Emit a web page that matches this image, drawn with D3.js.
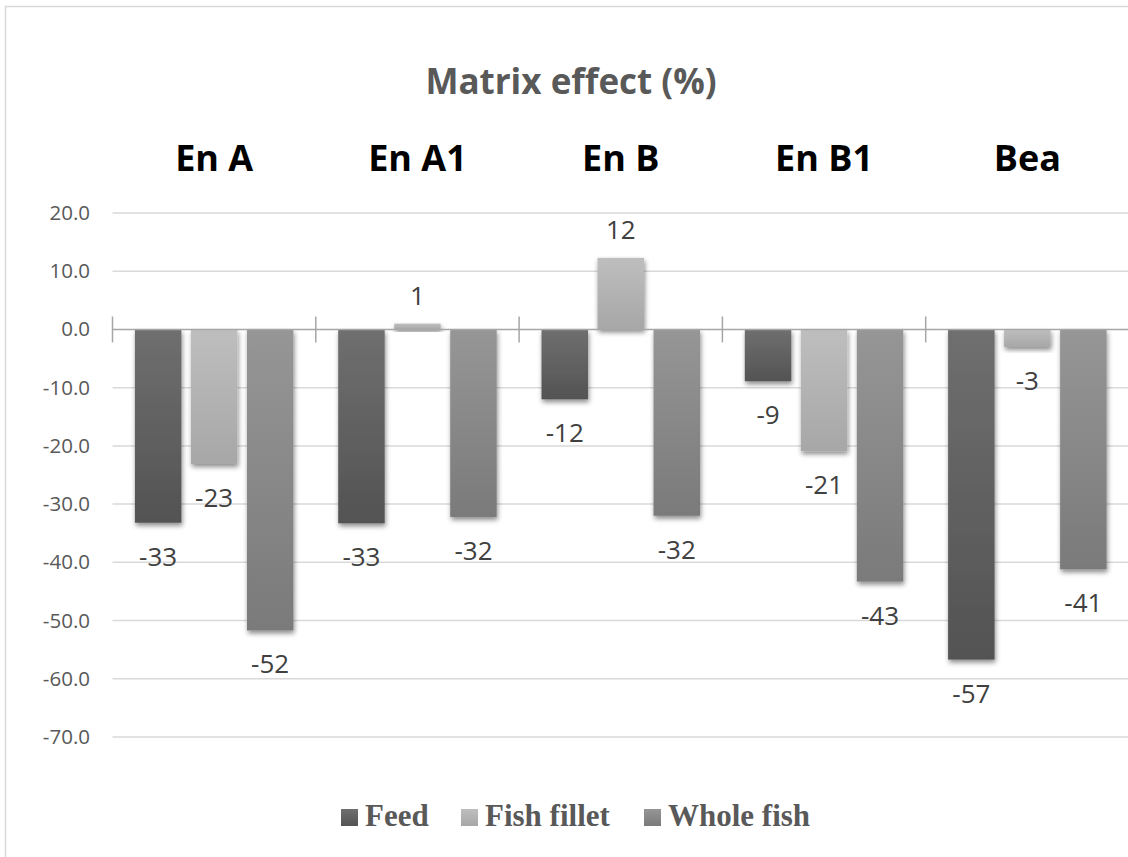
<!DOCTYPE html>
<html>
<head>
<meta charset="utf-8">
<script src="https://cdn.jsdelivr.net/npm/d3@7"></script>
<style>
  html, body { margin: 0; padding: 0; background: #fff; }
  svg { display: block; }
</style>
</head>
<body>
<svg id="chart" width="1128" height="857"></svg>
<script>
const categories = ["En A", "En A1", "En B", "En B1", "Bea"];
const seriesNames = ["Feed", "Fish fillet", "Whole fish"];
const feed = [-33.2, -33.3, -12.0, -8.9, -56.7];
const fishFillet = [-23.1, 1.0, 12.3, -20.9, -3.0];
const wholeFish = [-51.7, -32.2, -32.0, -43.3, -41.2];
const yTicks = [20, 10, 0, -10, -20, -30, -40, -50, -60, -70];
const title = "Matrix effect (%)";

const seriesValues = [feed, fishFillet, wholeFish];
const colors = [
  ["#6f6f6f", "#535353"],
  ["#bebebe", "#a7a7a7"],
  ["#969696", "#7a7a7a"]
];
const hy = s => s.replace("\u2212", "-");
const fmtTick = d => hy(d3.format(".1f")(d));
const fmtLabel = d => hy(d3.format(".0f")(d));

const svg = d3.select("#chart");
const defs = svg.append("defs");

colors.forEach((c, i) => {
  const g = defs.append("linearGradient").attr("id", "grad" + i)
    .attr("x1", 0).attr("y1", 0).attr("x2", 0).attr("y2", 1);
  g.append("stop").attr("offset", "0%").attr("stop-color", c[0]);
  g.append("stop").attr("offset", "100%").attr("stop-color", c[1]);
});
const f = defs.append("filter").attr("id", "shadow")
  .attr("x", "-30%").attr("y", "-30%").attr("width", "160%").attr("height", "160%");
f.append("feDropShadow").attr("dx", 1).attr("dy", 3).attr("stdDeviation", 2.5)
  .attr("flood-color", "#000").attr("flood-opacity", 0.45);

// chart border (cropped on right/bottom)
svg.append("rect").attr("x", 5.5).attr("y", 6.5).attr("width", 1140).attr("height", 870)
  .attr("fill", "none").attr("stroke", "#d9d9d9").attr("stroke-width", 1.5);

const x0 = d3.scaleBand().domain(categories).range([112.5, 1129]).paddingInner(0).paddingOuter(0);
const x1 = d3.scaleBand().domain(seriesNames).range([0, x0.bandwidth()]).paddingInner(0.17).paddingOuter(0.4);
const y = d3.scaleLinear().domain([-70, 20]).range([737, 213]);

// gridlines
svg.append("g").selectAll("line").data(yTicks.filter(d => d !== 0)).join("line")
  .attr("x1", 112.5).attr("x2", 1129)
  .attr("y1", d => y(d)).attr("y2", d => y(d))
  .attr("stroke", "#d9d9d9").attr("stroke-width", 1.5);

// y tick labels
svg.append("g").selectAll("text").data(yTicks).join("text")
  .attr("x", 90).attr("y", d => y(d) + 7)
  .attr("text-anchor", "end")
  .attr("font-family", "Open Sans, sans-serif").attr("font-size", 20.5)
  .attr("fill", "#595959")
  .text(fmtTick);

// bars
const groups = svg.append("g").selectAll("g").data(categories).join("g")
  .attr("transform", d => `translate(${x0(d)},0)`);

groups.each(function(cat, ci) {
  const g = d3.select(this);
  seriesNames.forEach((s, si) => {
    const v = seriesValues[si][ci];
    g.append("rect")
      .attr("x", x1(s))
      .attr("width", x1.bandwidth())
      .attr("y", Math.min(y(v), y(0)))
      .attr("height", Math.abs(y(v) - y(0)))
      .attr("fill", `url(#grad${si})`)
      .attr("filter", "url(#shadow)");
  });
});

// zero axis line and category ticks
svg.append("line").attr("x1", 112.5).attr("x2", 1129).attr("y1", y(0)).attr("y2", y(0))
  .attr("stroke", "#a6a6a6").attr("stroke-width", 1.5);
svg.append("g").selectAll("line").data(categories.map(c => x0(c)).concat([x0.range()[1]])).join("line")
  .attr("x1", d => d).attr("x2", d => d)
  .attr("y1", y(0) - 13).attr("y2", y(0) + 13)
  .attr("stroke", "#a6a6a6").attr("stroke-width", 1.5);

// data labels
groups.each(function(cat, ci) {
  const g = d3.select(this);
  seriesNames.forEach((s, si) => {
    const v = seriesValues[si][ci];
    g.append("text")
      .attr("x", x1(s) + x1.bandwidth() / 2)
      .attr("y", v >= 0 ? y(v) - 19 : y(v) + 43)
      .attr("text-anchor", "middle")
      .attr("font-family", "Open Sans, sans-serif").attr("font-size", 26)
      .attr("fill", "#404040")
      .text(fmtLabel(v));
  });
});

// category labels (top)
svg.append("g").selectAll("text").data(categories).join("text")
  .attr("x", d => x0(d) + x0.bandwidth() / 2)
  .attr("y", 171)
  .attr("text-anchor", "middle")
  .attr("font-family", "Open Sans, sans-serif").attr("font-weight", "bold").attr("font-size", 36)
  .attr("fill", "#000")
  .text(d => d);

// title
svg.append("text").attr("x", 571).attr("y", 94)
  .attr("text-anchor", "middle")
  .attr("font-family", "Open Sans, sans-serif").attr("font-weight", "bold").attr("font-size", 35)
  .attr("fill", "#595959")
  .text(title);

// legend
const legendX = [341, 461, 644];
const lg = svg.append("g").selectAll("g").data(seriesNames).join("g")
  .attr("transform", (d, i) => `translate(${legendX[i]},809)`);
lg.append("rect").attr("width", 17).attr("height", 17)
  .attr("fill", (d, i) => `url(#grad${i})`);
lg.append("text").attr("x", 24).attr("y", 17)
  .attr("font-family", "Liberation Serif, Times New Roman, serif").attr("font-weight", "bold")
  .attr("font-size", 31).attr("fill", "#595959")
  .text(d => d);
</script>
</body>
</html>
